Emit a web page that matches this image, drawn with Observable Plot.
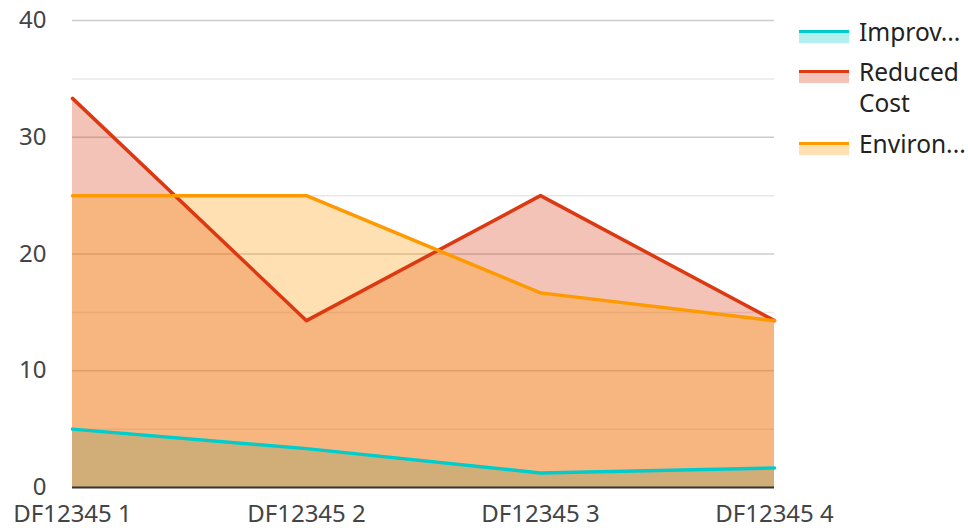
<!DOCTYPE html>
<html>
<head>
<meta charset="utf-8">
<script src="https://cdn.jsdelivr.net/npm/d3@7"></script>
<script src="https://cdn.jsdelivr.net/npm/@observablehq/plot@0.6"></script>
<style>
  html, body { margin: 0; padding: 0; background: #fff; }
  #wrap { position: relative; width: 968px; height: 528px; font-family: "Noto Sans", sans-serif; }
  #legend { position: absolute; left: 799px; top: 0; width: 169px; color: #222; font-size: 24.5px; }
  .item { position: absolute; left: 0; }
  .sw { position: absolute; left: 0; width: 50px; height: 13px; }
  .sw .ln { position: absolute; left: 0; top: 0; width: 50px; height: 3px; }
  .sw .fl { position: absolute; left: 0; top: 3px; width: 50px; height: 10px; }
  .lab { position: absolute; left: 60px; line-height: 31px; white-space: nowrap; }
</style>
</head>
<body>
<div id="wrap"><div id="legend"></div></div>
<script>
const categories = ["DF12345 1", "DF12345 2", "DF12345 3", "DF12345 4"];
const seriesNames = ["Improv...", "Reduced Cost", "Environ..."];
const legendLabels = ["Improv...", "Reduced<br>Cost", "Environ..."];
const improvValues = [5, 3.33, 1.25, 1.67];
const reducedCostValues = [33.33, 14.29, 25, 14.29];
const environValues = [25, 25, 16.67, 14.29];
const seriesColors = ["#00cccc", "#dc3912", "#ff9900"];
const yTicks = [0, 10, 20, 30, 40];
const minorGrid = [5, 15, 25, 35];

const seriesValues = [improvValues, reducedCostValues, environValues];
const data = [];
seriesNames.forEach((s, si) => {
  categories.forEach((c, ci) => data.push({series: s, cat: c, value: seriesValues[si][ci]}));
});

const marks = [
  Plot.ruleY(minorGrid, {stroke: "#e8e8e8", strokeWidth: 1.5}),
  Plot.ruleY(yTicks.filter(d => d > 0), {stroke: "#cccccc", strokeWidth: 1.5})
];
seriesNames.forEach((s, si) => {
  marks.push(Plot.areaY(data.filter(d => d.series === s), {x: "cat", y: "value", fill: seriesColors[si], fillOpacity: 0.3}));
});
seriesNames.forEach((s, si) => {
  marks.push(Plot.lineY(data.filter(d => d.series === s), {x: "cat", y: "value", stroke: seriesColors[si], strokeWidth: 3.5}));
});
marks.push(Plot.ruleY([0], {stroke: "#333333", strokeWidth: 2}));
marks.push(Plot.axisY({ticks: yTicks, tickSize: 0, tickPadding: 26, fontSize: 24, color: "#444"}));
marks.push(Plot.axisX({tickSize: 0, tickPadding: 17, fontSize: 24, color: "#444"}));

const chart = Plot.plot({
  width: 968,
  height: 528,
  marginLeft: 72,
  marginRight: 194,
  marginTop: 20,
  marginBottom: 41,
  style: {fontFamily: "Noto Sans, sans-serif", color: "#444", background: "#fff", overflow: "visible"},
  x: {type: "point", domain: categories, padding: 0, label: null},
  y: {domain: [0, 40], label: null},
  marks
});
document.getElementById("wrap").prepend(chart);

const legend = document.getElementById("legend");
const tops = [16, 56, 128];
seriesNames.forEach((s, i) => {
  const it = document.createElement("div");
  it.className = "item";
  it.style.top = tops[i] + "px";
  it.innerHTML = `<div class="sw" style="top:14px"><div class="ln" style="background:${seriesColors[i]}"></div><div class="fl" style="background:${seriesColors[i]};opacity:0.3"></div></div><div class="lab" style="top:0">${legendLabels[i]}</div>`;
  legend.appendChild(it);
});
</script>
</body>
</html>
